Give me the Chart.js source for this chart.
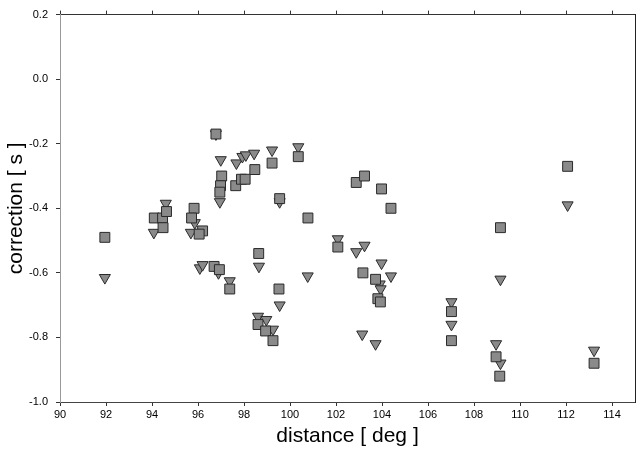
<!DOCTYPE html>
<html>
<head>
<meta charset="utf-8">
<script src="https://cdn.jsdelivr.net/npm/chart.js@4.4.1/dist/chart.umd.min.js"></script>
<style>
  html, body { margin: 0; padding: 0; background: #ffffff; }
  #wrap { width: 636px; height: 449px; position: relative; }
</style>
</head>
<body>
<div id="wrap"><canvas id="c" width="636" height="449"></canvas></div>
<script>
// Series A (squares): distance [deg], correction [s]
const squareDistance = [91.95, 94.10, 94.46, 94.48, 94.63, 95.83, 95.72, 96.20, 96.05, 96.70, 96.93, 97.38,
  96.78, 97.03, 96.98, 96.95, 97.64, 97.89, 98.05, 98.47, 99.22, 98.64, 98.61, 98.94, 99.26, 99.55, 99.52,
  100.36, 100.78, 102.08, 102.88, 103.24, 103.17, 103.72, 103.82, 103.93, 103.98, 104.39, 107.02, 107.02,
  108.96, 109.12, 109.15, 112.07, 113.22];
const squareCorrection = [-0.49, -0.43, -0.43, -0.46, -0.41, -0.40, -0.43, -0.47, -0.48, -0.58, -0.59, -0.65,
  -0.17, -0.30, -0.33, -0.35, -0.33, -0.31, -0.31, -0.28, -0.26, -0.54, -0.76, -0.78, -0.81, -0.37, -0.65,
  -0.24, -0.43, -0.52, -0.32, -0.30, -0.60, -0.62, -0.68, -0.69, -0.34, -0.40, -0.72, -0.81,
  -0.86, -0.92, -0.46, -0.27, -0.88];

// Series B (down triangles)
const triangleDistance = [91.95, 94.08, 94.60, 95.69, 95.86, 96.08, 96.20, 96.89, 97.38, 96.78, 96.99, 96.95,
  97.67, 97.93, 98.08, 98.44, 99.22, 98.65, 98.61, 98.97, 99.26, 99.55, 99.55, 100.36, 100.77, 102.08,
  102.88, 103.24, 103.14, 103.72, 103.98, 103.90, 103.94, 104.39, 107.02, 107.02, 108.96, 109.15, 109.15,
  112.07, 113.22];
const triangleCorrection = [-0.615, -0.475, -0.385, -0.475, -0.445, -0.585, -0.575, -0.60, -0.625, -0.17, -0.25, -0.38,
  -0.26, -0.24, -0.235, -0.23, -0.22, -0.58, -0.735, -0.745, -0.775, -0.38, -0.70, -0.21, -0.61, -0.495,
  -0.535, -0.515, -0.79, -0.82, -0.57, -0.635, -0.65, -0.61, -0.69, -0.76, -0.82, -0.88, -0.62,
  -0.39, -0.84];

const xTickValues = [90, 92, 94, 96, 98, 100, 102, 104, 106, 108, 110, 112, 114];
const yTickValues = [0.2, 0.0, -0.2, -0.4, -0.6, -0.8, -1.0];

const toPoints = (xs, ys) => xs.map((x, i) => ({ x: x, y: ys[i] }));
const FONT = "'Liberation Sans', Arial, Helvetica, sans-serif";

const keepTicks = (vals) => (scale) => {
  scale.ticks = vals.map(v => ({ value: v }));
};

new Chart(document.getElementById('c'), {
  type: 'scatter',
  data: {
    datasets: [
      {
        label: 'squares',
        data: toPoints(squareDistance, squareCorrection),
        pointStyle: 'rect',
        pointRadius: 7,
        backgroundColor: '#8a8a8a',
        borderColor: '#2a2a2a',
        borderWidth: 1
      },
      {
        label: 'triangles',
        data: toPoints(triangleDistance, triangleCorrection),
        pointStyle: 'triangle',
        pointRotation: 180,
        pointRadius: 6.4,
        backgroundColor: '#8a8a8a',
        borderColor: '#2a2a2a',
        borderWidth: 1
      }
    ]
  },
  options: {
    responsive: false,
    animation: false,
    events: [],
    layout: { autoPadding: false, padding: { left: 0, right: 1, top: 0, bottom: 0 } },
    plugins: { legend: { display: false }, tooltip: { enabled: false } },
    scales: {
      x: {
        type: 'linear', position: 'bottom', min: 90, max: 115,
        afterBuildTicks: keepTicks(xTickValues),
        afterFit: (s) => { s.height = 47; },
        border: { display: true, color: '#444', width: 1 },
        grid: { drawOnChartArea: false, drawTicks: true, tickLength: 4, color: '#333', tickColor: '#333' },
        ticks: { color: '#000', font: { family: FONT, size: 11 }, padding: 2, maxRotation: 0, autoSkip: false,
          callback: (v) => String(v) },
        title: { display: true, text: 'distance [ deg ]', color: '#000', font: { family: FONT, size: 21 }, padding: { top: 0, bottom: 0 } }
      },
      xTop: {
        type: 'linear', position: 'top', min: 90, max: 115,
        afterBuildTicks: keepTicks(xTickValues),
        afterFit: (s) => { s.height = 13; },
        border: { display: true, color: '#333', width: 1 },
        grid: { drawOnChartArea: false, drawTicks: true, tickLength: 4, color: '#333', tickColor: '#333' },
        ticks: { display: true, color: 'rgba(0,0,0,0)', font: { size: 1 }, padding: 0, autoSkip: false }
      },
      y: {
        type: 'linear', position: 'left', min: -1.0, max: 0.2,
        afterBuildTicks: keepTicks(yTickValues),
        afterFit: (s) => { s.width = 60; },
        border: { display: true, color: '#9a9a9a', width: 1 },
        grid: { drawOnChartArea: false, drawTicks: true, tickLength: 4, color: '#333', tickColor: '#333' },
        ticks: { color: '#000', font: { family: FONT, size: 11 }, padding: 8, autoSkip: false,
          callback: (v) => Number(v).toFixed(1) },
        title: { display: true, text: 'correction [ s ]', color: '#000', font: { family: FONT, size: 21 }, padding: { top: 4, bottom: 2 } }
      },
      yRight: {
        type: 'linear', position: 'right', min: -1.0, max: 0.2,
        afterBuildTicks: keepTicks(yTickValues),
        afterFit: (s) => { s.width = 0; },
        border: { display: true, color: '#222', width: 1 },
        grid: { drawOnChartArea: false, drawTicks: false },
        ticks: { display: false }
      }
    }
  }
});
</script>
</body>
</html>
